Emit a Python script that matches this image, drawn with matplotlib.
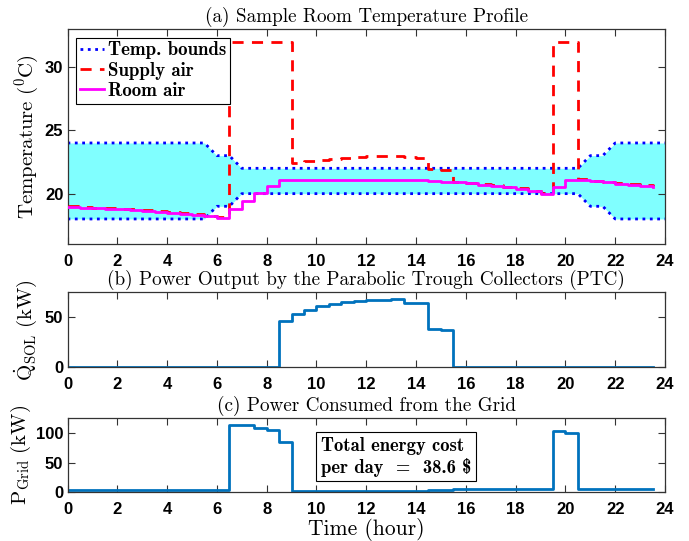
import numpy as np
import matplotlib
matplotlib.use("Agg")
import matplotlib.pyplot as plt

plt.rcParams['mathtext.fontset'] = 'cm'

# ---------------- data ----------------
t = np.arange(0, 24, 0.5)            # 48 half-hour steps (0 .. 23.5)
t_bounds = np.arange(0, 24.5, 0.5)   # 49 points (0 .. 24)

upper_bound = [24]*12 + [23, 23] + [22]*28 + [23, 23] + [24]*5
lower_bound = [18]*12 + [19, 19] + [20]*28 + [19, 19] + [18]*5

room_air = [18.95, 18.9, 18.85, 18.8, 18.75, 18.7, 18.63, 18.56, 18.48, 18.4,
            18.32, 18.22, 18.08, 18.75, 19.45, 20.05, 20.58, 21.05,
            21.05, 21.05, 21.05, 21.05, 21.05, 21.05, 21.05, 21.05, 21.05, 21.05, 21.05,
            20.97, 20.95, 20.9, 20.82, 20.72, 20.62, 20.5, 20.38, 20.18, 20.0,
            20.52, 21.1, 21.05, 20.97, 20.88, 20.8, 20.7, 20.6, 20.52]

supply_air = [19.0, 18.95, 18.9, 18.85, 18.8, 18.75, 18.68, 18.6, 18.53, 18.45,
              18.37, 18.27, 18.12, 32, 32, 32, 32, 32,
              22.4, 22.55, 22.65, 22.75, 22.85, 22.92, 22.97, 23.0, 23.0, 22.88, 22.85,
              21.95, 21.85, 20.95, 20.87, 20.77, 20.67, 20.55, 20.43, 20.23, 20.03,
              32, 32, 21.12, 21.02, 20.93, 20.85, 20.75, 20.65, 20.57]

q_sol = [0]*17 + [45.5, 52.5, 56.8, 60.3, 62.3, 64.0, 65.1, 66.1, 66.7, 67.0,
                  63.5, 63.0, 37.8, 37.2] + [0]*17

p_grid = [4.5]*13 + [114, 113, 109, 105, 85] + [3.0]*11 + [3.8, 3.8] + [5.0]*8 \
         + [104, 99.5] + [5.0]*7

xticks = list(range(0, 25, 2))

# ---------------- figure ----------------
W, H = 689, 541
fig = plt.figure(figsize=(W/100, H/100), dpi=100)

def axpos(left, top, right, bottom):
    return [left/W, 1 - bottom/H, (right-left)/W, (bottom-top)/H]

ax1 = fig.add_axes(axpos(67.5, 29, 665, 244.3))
ax2 = fig.add_axes(axpos(67.5, 292.3, 665, 367.2))
ax3 = fig.add_axes(axpos(67.5, 418.3, 665, 492.3))

tickfont = dict(family='Liberation Sans', weight='bold', size=12)
blue = '#0072BD'
spine_col = '#333333'
title_size = 13.8

def style(ax, yt):
    ax.set_xlim(0, 24)
    ax.set_xticks(xticks)
    ax.set_yticks(yt)
    ax.tick_params(direction='in', top=True, right=True, length=5, width=0.8,
                   color=spine_col)
    ax.tick_params(axis='x', pad=7)
    ax.tick_params(axis='y', pad=3)
    for lab in ax.get_xticklabels() + ax.get_yticklabels():
        lab.set_fontfamily(tickfont['family'])
        lab.set_fontweight(tickfont['weight'])
        lab.set_fontsize(tickfont['size'])
    for s in ax.spines.values():
        s.set_color(spine_col)
        s.set_linewidth(0.9)

# ---- (a) temperatures ----
ax1.fill_between(t_bounds, lower_bound, upper_bound, color='#80FFFF', lw=0, zorder=1)
lb, = ax1.plot(t_bounds, upper_bound, ':', color='blue', lw=2, zorder=2)
ax1.plot(t_bounds, lower_bound, ':', color='blue', lw=2, zorder=2)
ls, = ax1.step(t, supply_air, where='post', ls=(0, (4, 3)), color='red', lw=2, zorder=3)
lr, = ax1.step(t, room_air, where='post', color='magenta', lw=2, zorder=4)
ax1.set_ylim(16, 33)
style(ax1, [20, 25, 30])
ax1.set_title('(a) Sample Room Temperature Profile', fontfamily='cmr10',
              fontsize=title_size, pad=5)
ax1.set_ylabel(r'$\mathrm{Temperature\ (^0C)}$', fontsize=15)
ax1.yaxis.set_label_coords(-0.044, 0.5)
leg = ax1.legend([lb, ls, lr], ['Temp. bounds', 'Supply air', 'Room air'],
                 loc='upper left', prop=dict(family='cmb10', size=13.6),
                 fancybox=False, framealpha=1, edgecolor='black',
                 handlelength=1.3, handletextpad=0.2, borderpad=0.2,
                 labelspacing=0.12, borderaxespad=0.45)
leg.get_frame().set_linewidth(0.8)

# ---- (b) PTC power ----
ax2.step(t, q_sol, where='post', color=blue, lw=2)
ax2.set_ylim(0, 74)
style(ax2, [0, 50])
ax2.set_title('(b) Power Output by the Parabolic Trough Collectors (PTC)',
              fontfamily='cmr10', fontsize=title_size, pad=5)
ax2.set_ylabel(r'$\dot{\mathrm{Q}}_{\mathrm{SOL}}\ \mathrm{(kW)}$', fontsize=15)
ax2.yaxis.set_label_coords(-0.048, 0.5)

# ---- (c) grid power ----
ax3.step(t, p_grid, where='post', color=blue, lw=2)
ax3.set_ylim(0, 125)
style(ax3, [0, 50, 100])
ax3.set_title('(c) Power Consumed from the Grid', fontfamily='cmr10',
              fontsize=title_size, pad=5)
ax3.set_ylabel(r'$\mathrm{P_{Grid}\ (kW)}$', fontsize=15)
ax3.yaxis.set_label_coords(-0.057, 0.5)
ax3.set_xlabel('Time (hour)', fontfamily='cmr10', fontsize=15.5, labelpad=1)
ax3.text(0.424, 0.75, 'Total energy cost\nper day  =  38.6 \\$', transform=ax3.transAxes,
         fontfamily='cmb10', fontsize=13.4, va='top', ha='left', linespacing=1.2,
         bbox=dict(boxstyle='square,pad=0.25', fc='white', ec='black', lw=0.8))

fig.savefig('out.png', dpi=100)
